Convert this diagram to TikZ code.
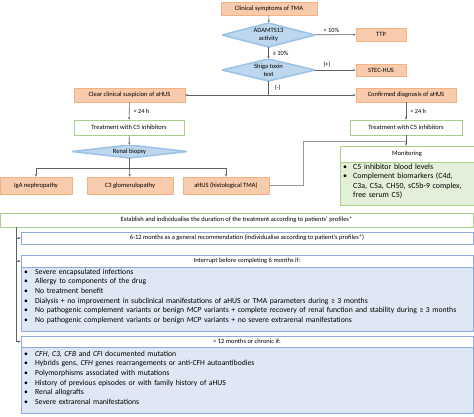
\documentclass[tikz,border=0pt]{standalone}
\usepackage{fontspec}
\setmainfont{Carlito}
\usetikzlibrary{shapes.geometric,arrows.meta}
\definecolor{ofill}{HTML}{F8CBAD}
\definecolor{oline}{HTML}{F4B183}
\definecolor{dfill}{HTML}{BDD7EE}
\definecolor{dline}{HTML}{9DC3E6}
\definecolor{gline}{HTML}{A9D18E}
\definecolor{gfill}{HTML}{E2F0D9}
\definecolor{bline}{HTML}{8FAADC}
\definecolor{bfill}{HTML}{DEE7F3}
\definecolor{cline}{HTML}{606060}
\begin{document}
\begin{tikzpicture}[x=1pt,y=-1pt,
  every node/.style={font=\fontsize{6.5}{8}\selectfont, inner sep=0pt},
  obox/.style={draw=oline, fill=ofill, line width=0.8pt, rectangle},
  dbox/.style={rectangle, align=center,
    path picture={\filldraw[fill=dfill, draw=dline, line width=1.6pt]
      (path picture bounding box.north) -- (path picture bounding box.east) --
      (path picture bounding box.south) -- (path picture bounding box.west) -- cycle;}},
  gbox/.style={draw=gline, fill=white, line width=0.8pt, rectangle},
  bbox/.style={draw=bline, fill=white, line width=0.8pt, rectangle},
  conn/.style={draw=cline, line width=0.6pt},
  arr/.style={conn, -{Stealth[length=2.5pt,width=2.2pt]}},
  lbl/.style={anchor=west, font=\fontsize{6.3}{7}\selectfont},
  blist/.style={align=left, anchor=north west, text width=#1, font=\fontsize{7.7}{9.7}\selectfont}
]
\useasboundingbox (0,0) rectangle (474,416);

% top flow
\node[obox, minimum width=96pt, minimum height=13pt] (clin) at (269,8.5) {Clinical symptoms of TMA};
\node[dbox, minimum width=93pt, minimum height=24pt] (adam) at (268.5,35) {ADAMTS13\\activity};
\node[obox, minimum width=50pt, minimum height=13pt] (ttp) at (381,34.5) {TTP};
\node[dbox, minimum width=93pt, minimum height=22pt] (shiga) at (268.5,70) {Shiga toxin\\test};
\node[obox, minimum width=50pt, minimum height=12pt] (stec) at (381,70) {STEC-HUS};
\node[obox, minimum width=111pt, minimum height=14pt] (clear) at (129.5,95) {Clear clinical suspicion of aHUS};
\node[obox, minimum width=100pt, minimum height=14pt] (conf) at (406,95) {Confirmed diagnosis of aHUS};
\node[gbox, minimum width=110pt, minimum height=15pt] (treatL) at (129,127.5) {Treatment with C5 inhibitors};
\node[gbox, minimum width=112pt, minimum height=15pt] (treatR) at (406,127.5) {Treatment with C5 inhibitors};
\node[dbox, minimum width=115pt, minimum height=13pt] (biopsy) at (129.5,151.5) {Renal biopsy};
\node[obox, minimum width=72pt, minimum height=17pt] (iga) at (36,185.5) {IgA nephropathy};
\node[obox, minimum width=86pt, minimum height=17pt] (c3) at (130,185.5) {C3 glomerulopathy};
\node[obox, minimum width=86pt, minimum height=17pt] (ahus) at (226,185.5) {aHUS (histological TMA)};

% monitoring
\node[draw=gline, fill=gfill, line width=0.8pt, minimum width=134pt, minimum height=43pt, anchor=north west] (monlist) at (340,162) {};
\node[gbox, minimum width=134pt, minimum height=16pt] (mon) at (407,154) {Monitoring};
\node[blist=130pt, font=\fontsize{7.9}{9.3}\selectfont] (montext) at (343,164) {%
\makebox[10pt][l]{•}C5 inhibitor blood levels\\
\makebox[10pt][l]{•}Complement biomarkers (C4d,\\
\makebox[10pt][l]{}C3a, C5a, CH50, sC5b-9 complex,\\
\makebox[10pt][l]{}free serum C5)};

% connectors top
\draw[arr] (clin) -- (adam);
\draw[arr] (adam) -- node[lbl, pos=0.2, above=1.5pt, anchor=south west] (l10) {< 10\%} (ttp);
\draw[arr] (adam) -- node[lbl, right=4pt] (g10) {≥ 10\%} (shiga);
\draw[arr] (shiga) -- node[lbl, pos=0.2, above=2.5pt, anchor=south west] (lplus) {(+)} (stec);
\coordinate (sj) at (268.5,95);
\draw[conn] (shiga) -- node[lbl, right=6pt] (lminus) {(-)} (sj);
\draw[arr] (sj) -- (clear);
\draw[arr] (sj) -- (conf);
\draw[arr] (clear) -- node[lbl, right=4pt] (h1) {< 24 h} (treatL);
\draw[arr] (conf) -- node[lbl, right=4pt] (h2) {< 24 h} (treatR);
\draw[arr] (treatL) -- (biopsy);
\coordinate (bj) at (129.5,168);
\draw[conn] (biopsy) -- (bj);
\draw[conn] (iga.north |- bj) -- (ahus.north |- bj);
\draw[arr] (iga.north |- bj) -- (iga);
\draw[arr] (bj) -- (c3);
\draw[arr] (ahus.north |- bj) -- (ahus);
\coordinate (mj) at (406,141);
\coordinate (mjl) at (303,141);
\draw[conn, draw=black!40] (ahus.east) -| (mjl) -- (mj);
\draw[arr] (treatR) -- (mon.north -| treatR);

% bottom
\node[gbox, minimum width=473pt, minimum height=14pt] (est) at (236.5,220) {Establish and individualise the duration of the treatment according to patients' profiles*};
\node[bbox, minimum width=452pt, minimum height=12pt] (m612) at (247,238) {6-12 months as a general recommendation (individualise according to patient's profiles*)};
\node[draw=bline, fill=bfill, line width=0.8pt, minimum width=452pt, minimum height=64pt, anchor=north west] (list1) at (21,267) {};
\node[bbox, minimum width=452pt, minimum height=12pt] (intr) at (247,261) {Interrupt before completing 6 months if:};
\node[blist=448pt] (l1text) at (24,268.5) {%
\makebox[11pt][l]{•}Severe encapsulated infections\\
\makebox[11pt][l]{•}Allergy to components of the drug\\
\makebox[11pt][l]{•}No treatment benefit\\
\makebox[11pt][l]{•}Dialysis + no improvement in subclinical manifestations of aHUS or TMA parameters during ≥ 3 months\\
\makebox[11pt][l]{•}No pathogenic complement variants or benign \emph{MCP} variants + complete recovery of renal function and stability during ≥ 3 months\\
\makebox[11pt][l]{•}No pathogenic complement variants or benign \emph{MCP} variants + no severe extrarenal manifestations};
\node[draw=bline, fill=bfill, line width=0.8pt, minimum width=452pt, minimum height=66pt, anchor=north west] (list2) at (21,347) {};
\node[bbox, minimum width=452pt, minimum height=11pt] (m12) at (247,341.5) {> 12 months or chronic if:};
\node[blist=448pt] (l2text) at (24,350.5) {%
\makebox[11pt][l]{•}\emph{CFH, C3, CFB} and \emph{CFI} documented mutation\\
\makebox[11pt][l]{•}Hybrids gens, \emph{CFH} genes rearrangements or anti-CFH autoantibodies\\
\makebox[11pt][l]{•}Polymorphisms associated with mutations\\
\makebox[11pt][l]{•}History of previous episodes or with family history of aHUS\\
\makebox[11pt][l]{•}Renal allografts\\
\makebox[11pt][l]{•}Severe extrarenal manifestations};

\coordinate (vt) at (16,227);
\coordinate (vb) at (16,341.5);
\draw[conn] (vt) -- (vb);
\draw[arr] (16,238) -- (m612.west);
\draw[arr] (16,261) -- (intr.west);
\draw[arr] (vb) -- (m12.west);
\end{tikzpicture}
\end{document}
